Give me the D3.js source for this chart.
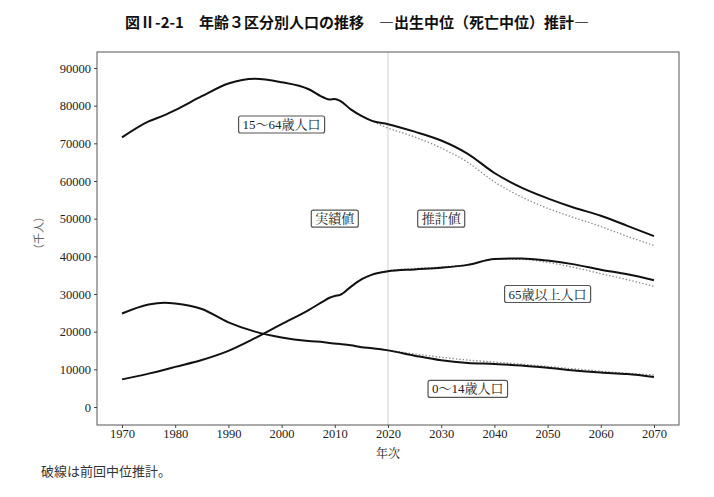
<!DOCTYPE html>
<html><head><meta charset="utf-8">
<script src="https://cdn.jsdelivr.net/npm/d3@7"></script>
<style>
body{margin:0;background:#fff;}
svg{display:block;}
.tick text{font-family:"Liberation Serif","DejaVu Serif",serif;font-size:12.5px;fill:#222;}
.tick line{stroke:#444;}
</style></head>
<body>
<svg id="c" width="714" height="497"></svg>
<script>
// ---- data (thousand persons) ----
const title = "図Ⅱ-2-1　年齢３区分別人口の推移　―出生中位（死亡中位）推計―";
const xTicks = [1970,1980,1990,2000,2010,2020,2030,2040,2050,2060,2070];
const yTicks = [0,10000,20000,30000,40000,50000,60000,70000,80000,90000];

// actual values (実績値)
const yearsActual = [1970,1975,1978,1980,1985,1990,1995,2000,2005,2008,2009,2010,2011,2013,2015,2017,2020];
const age15_64Actual = [71566,75807,77500,78835,82506,85904,87165,86220,84422,82100,81650,81800,81300,79010,77282,75960,75088];
const age65Actual    = [7331,8865,9900,10647,12468,14895,18261,22005,25672,28200,29005,29484,29752,31898,33868,35150,36027];
const age0_14Actual  = [24823,27221,27700,27507,26033,22486,20014,18472,17521,17176,17011,16839,16705,16390,15887,15592,15032];

// current projection (推計値)
const yearsProj = [2025,2030,2035,2040,2045,2050,2055,2060,2065,2070];
const age15_64Proj = [73101,70757,67216,62129,58323,55402,52914,50781,48093,45350];
const age65Proj    = [36529,36962,37732,39285,39451,38878,37868,36437,35225,33671];
const age0_14Proj  = [13633,12397,11691,11419,11027,10406,9659,9132,8749,7975];

// previous projection (前回中位推計, dotted)
const yearsPrev = [2015,2020,2025,2030,2035,2040,2045,2050,2055,2060,2065,2070];
const age15_64Prev = [77282,74058,71701,68755,64942,59777,55845,52750,50276,47928,45291,42900];
const age65Prev    = [33868,36192,36771,37160,37817,39206,39192,38406,37042,35403,33810,32000];
const age0_14Prev  = [15887,15075,14073,13212,12457,11936,11384,10767,10123,9508,8975,8500];

// annotations: [text, year, value]
const labels = [
  ["15～64歳人口",2000,75000],
  ["実績値",2010,50000],
  ["推計値",2030,50000],
  ["65歳以上人口",2050,30000],
  ["0～14歳人口",2035,4800]
];
const dividerYear = 2020;
const yLabel = "（千人）";
const xLabel = "年次";
const note = "破線は前回中位推計。";

// ---- drawing ----
const svg = d3.select("#c");
const x = d3.scaleLinear().domain([1970,2070]).range([122,654]);
const y = d3.scaleLinear().domain([0,90000]).range([407,68]);
const frame = {l:97, r:679, t:52, b:425};

const toPts = (ys, vs) => ys.map((yr,i)=>[yr, vs[i]]);
const line = d3.line().x(d=>x(d[0])).y(d=>y(d[1])).curve(d3.curveMonotoneX);

// divider line
svg.append("line").attr("x1",x(dividerYear)).attr("x2",x(dividerYear))
  .attr("y1",frame.t).attr("y2",frame.b).attr("stroke","#d0d0d0").attr("stroke-width",1);

// dotted previous
[age15_64Prev, age65Prev, age0_14Prev].forEach(vs=>{
  svg.append("path").attr("d", line(toPts(yearsPrev, vs)))
    .attr("fill","none").attr("stroke","#888").attr("stroke-width",1.3)
    .attr("stroke-dasharray","1.4,2");
});

// solid series
[[age15_64Actual,age15_64Proj],[age65Actual,age65Proj],[age0_14Actual,age0_14Proj]].forEach(([a,p])=>{
  const pts = toPts(yearsActual,a).concat(toPts(yearsProj,p));
  svg.append("path").attr("d", line(pts))
    .attr("fill","none").attr("stroke","#111").attr("stroke-width",2);
});

// frame
svg.append("rect").attr("x",frame.l).attr("y",frame.t)
  .attr("width",frame.r-frame.l).attr("height",frame.b-frame.t)
  .attr("fill","none").attr("stroke","#555").attr("stroke-width",1);

// axes
const gx = svg.append("g").attr("transform",`translate(0,${frame.b})`)
  .call(d3.axisBottom(x).tickValues(xTicks).tickFormat(d3.format("d")).tickSize(3).tickPadding(1));
gx.select(".domain").remove();
const gy = svg.append("g").attr("transform",`translate(${frame.l},0)`)
  .call(d3.axisLeft(y).tickValues(yTicks).tickFormat(d3.format("d")).tickSize(3).tickPadding(3));
gy.select(".domain").remove();

// labels with boxes
labels.forEach(([t,yr,v])=>{
  const g = svg.append("g");
  const tx = g.append("text").attr("x",x(yr)).attr("y",y(v))
    .attr("text-anchor","middle").attr("dominant-baseline","central")
    .style("font-family","'Liberation Serif','Noto Serif CJK JP','Noto Sans CJK JP',serif")
    .style("font-size","13px").attr("fill","#222").text(t);
  const bb = tx.node().getBBox();
  g.insert("rect","text").attr("x",bb.x-4).attr("y",bb.y-1)
    .attr("width",bb.width+8).attr("height",bb.height+2)
    .attr("rx",2).attr("fill","#fff").attr("stroke","#555").attr("stroke-width",1.2);
});

// title
svg.append("text").attr("x",357).attr("y",21).attr("text-anchor","middle")
  .attr("dominant-baseline","central")
  .style("font-family","'Noto Sans CJK JP',sans-serif").style("font-weight","bold")
  .style("font-size","15px").attr("fill","#111").text(title);

// axis titles
svg.append("text").attr("transform",`translate(38,233) rotate(-90)`)
  .attr("text-anchor","middle").attr("dominant-baseline","central")
  .style("font-family","'Noto Sans CJK JP',sans-serif").style("font-size","11px")
  .attr("fill","#666").text(yLabel);
svg.append("text").attr("x",x(2020)).attr("y",452).attr("text-anchor","middle")
  .attr("dominant-baseline","central")
  .style("font-family","'Noto Serif CJK JP','Noto Sans CJK JP',serif").style("font-size","12px")
  .attr("fill","#222").text(xLabel);
svg.append("text").attr("x",41).attr("y",470)
  .attr("dominant-baseline","central")
  .style("font-family","'Noto Sans CJK JP',sans-serif").style("font-size","13px")
  .attr("fill","#333").text(note);
</script>
</body></html>
